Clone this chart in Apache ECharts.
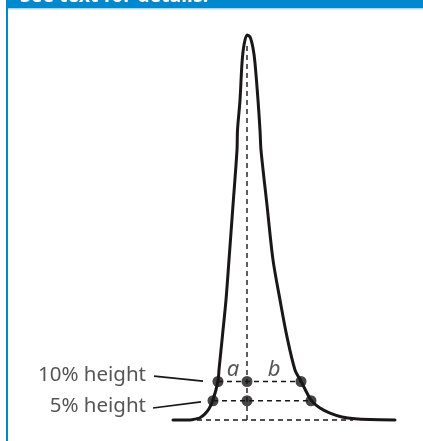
<!DOCTYPE html>
<html>
<head>
<meta charset="utf-8">
<script src="https://cdn.jsdelivr.net/npm/echarts@6/dist/echarts.min.js"></script>
<style>
html,body{margin:0;padding:0;background:#fff;}
#c{width:423px;height:441px;}
</style>
</head>
<body>
<div id="c"></div>
<script>
// Peak profile: x = retention time (arbitrary units, peak apex at 0), y = % of peak height
var curveX = [-7.4, -5.7, -5.1, -4.7, -4.2, -3.8, -3.4, -2.9, -2.8, -2.45, -2.1, -1.8, -1.4, -1.0, -0.95, -0.7, -0.5, -0.3, 0, 0.3, 0.6, 0.8, 1.1, 1.3, 1.4, 2.0, 2.6, 3.3, 4.0, 4.8, 5.4, 6.4, 7.3, 8.3, 9.5, 10.8, 12.3, 14.8];
var curveY = [0, 0, 0.3, 0.6, 1.6, 2.9, 5.2, 10.1, 13, 22, 31.2, 41.6, 55.8, 70.1, 75.3, 83.1, 92.7, 97.4, 100, 99.5, 96.6, 92.7, 83.1, 75.3, 70.1, 55.8, 41.6, 31.2, 21.6, 13, 10.1, 5.2, 3.1, 1.8, 0.8, 0.3, 0.1, 0];

// Height levels where the peak width is measured
var levelPct = [10, 5];
var levelLeft = [-2.9, -3.4];
var levelRight = [5.4, 6.4];
var levelLabels = ['10% height', '5% height'];
var leaderStart = [[-9.3, 11.4], [-9.4, 3.1]];
var leaderEnd = [[-4.4, 10.1], [-4.6, 4.7]];
var labelPos = [[-10.1, 11.7], [-10.1, 3.6]];

// Baseline and apex line
var baselineX = [-5.0, 10.6];
var apexLineTop = 98;

// Half-width letters
var halfLabels = ['a', 'b'];
var halfLabelPos = [[-1.4, 13.0], [2.7, 13.0]];

var INK = '#1a1718';
var dashStyle = {color: INK, width: 1.4, type: [5, 4]};

var series = [];
series.push({
  type: 'line', name: 'peak', data: curveX.map(function (x, i) { return [x, curveY[i]]; }),
  smooth: 0.3, symbol: 'none', clip: false, z: 4,
  lineStyle: {color: INK, width: 3, cap: 'round', join: 'round'}
});
// dashed apex line
series.push({type: 'line', data: [[0, 0], [0, apexLineTop]], symbol: 'none', clip: false, z: 2, lineStyle: dashStyle});
// dashed baseline
series.push({type: 'line', data: [[baselineX[0], 0], [baselineX[1], 0]], symbol: 'none', clip: false, z: 2, lineStyle: dashStyle});
// dashed level lines + leader lines
levelPct.forEach(function (p, i) {
  series.push({type: 'line', data: [[levelLeft[i], p], [levelRight[i], p]], symbol: 'none', clip: false, z: 2, lineStyle: dashStyle});
  series.push({type: 'line', data: [leaderStart[i], leaderEnd[i]], symbol: 'none', clip: false, z: 2, lineStyle: {color: INK, width: 1.6}});
});
// markers
var pts = [];
levelPct.forEach(function (p, i) { pts.push([levelLeft[i], p], [0, p], [levelRight[i], p]); });
series.push({type: 'scatter', data: pts, symbol: 'circle', symbolSize: 11, clip: false, z: 5, itemStyle: {color: INK}});
// level text labels
series.push({
  type: 'scatter', symbolSize: 0, clip: false, silent: true,
  data: levelLabels.map(function (t, i) { return {value: labelPos[i], name: t}; }),
  label: {show: true, position: 'left', distance: 0, formatter: '{b}', color: '#2b2b2b', fontSize: 20.5, fontFamily: 'Noto Sans'}
});
// a / b labels
series.push({
  type: 'scatter', symbolSize: 0, clip: false, silent: true,
  data: halfLabels.map(function (t, i) { return {value: halfLabelPos[i], name: t}; }),
  label: {show: true, position: 'inside', formatter: '{b}', color: '#2b2b2b', fontSize: 22, fontStyle: 'italic', fontFamily: 'Noto Sans'}
});

var chart = echarts.init(document.getElementById('c'), null, {renderer: 'canvas'});
chart.setOption({
  animation: false,
  backgroundColor: '#fff',
  grid: {left: 0, right: 28, top: 35, bottom: 21, containLabel: false},
  xAxis: {type: 'value', min: -24.7, max: 14.8, show: false},
  yAxis: {type: 'value', min: 0, max: 100, show: false},
  graphic: [
    {type: 'rect', shape: {x: 6, y: 0, width: 417, height: 8.5}, style: {fill: '#0088cf'}, z: 10},
    {type: 'rect', shape: {x: 8, y: 8.5, width: 415, height: 1.2}, style: {fill: '#cfe6f5'}, z: 10},
    {type: 'rect', shape: {x: 6, y: 0, width: 2, height: 441}, style: {fill: '#0088cf'}, z: 10},
    {type: 'text', x: 20, y: -13.5, z: 11, style: {text: 'See text for details.', fill: '#fff', font: 'bold 19.5px "Noto Sans"', textVerticalAlign: 'top'}}
  ],
  series: series
});
</script>
</body>
</html>
